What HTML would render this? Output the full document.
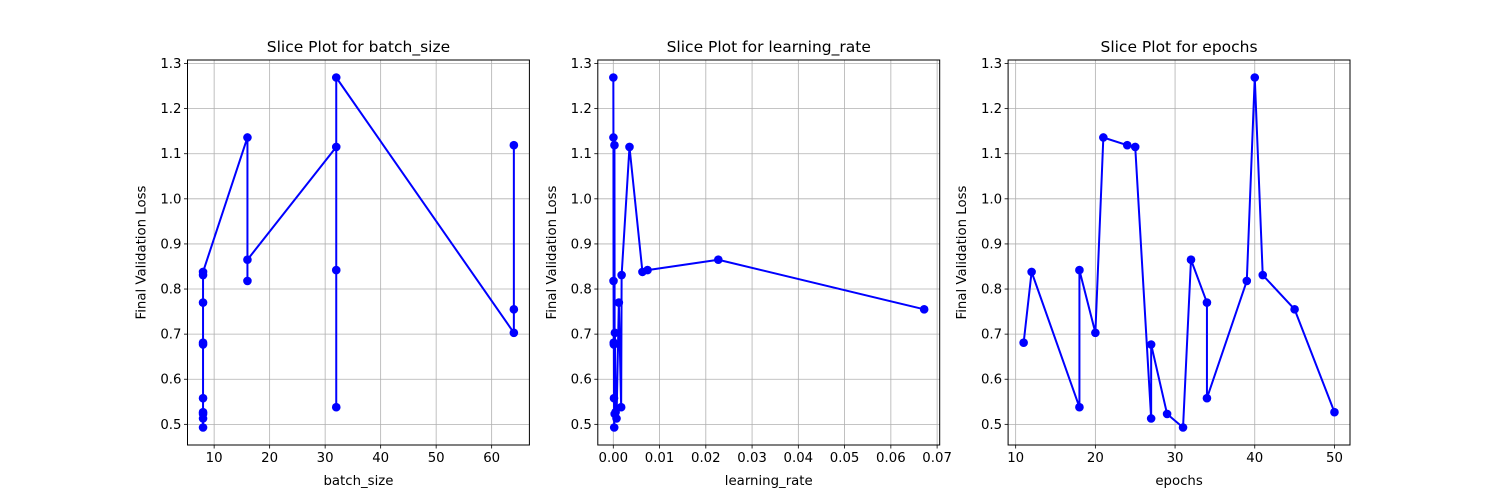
<!DOCTYPE html>
<html><head><meta charset="utf-8"><style>
html,body{margin:0;padding:0;background:#fff;}
svg{display:block;font-family:"DejaVu Sans","Liberation Sans",sans-serif;}
</style></head><body>
<svg id="fig" width="1500" height="500" viewBox="0 0 1500 500" xmlns="http://www.w3.org/2000/svg"></svg>
<script>
// Panel 1: batch_size
const batchX = [8,8,8,8,8,8,8,8,8,8,16,16,16,32,32,32,32,64,64,64];
const batchLoss = [0.493,0.513,0.523,0.527,0.558,0.677,0.681,0.770,0.831,0.838,1.136,0.818,0.865,1.115,0.538,0.842,1.269,0.703,0.755,1.119];
const batchTicks = [10,20,30,40,50,60];
// Panel 2: learning_rate
const lrX = [0.00001,0.00003,0.00005,0.0001,0.00012,0.00015,0.0002,0.00025,0.0003,0.00035,0.0005,0.0007,0.0012,0.0017,0.0018,0.0035,0.0063,0.0074,0.0227,0.0672];
const lrLoss = [1.269,1.136,0.818,0.681,0.677,0.558,0.493,1.119,0.523,0.703,0.527,0.513,0.770,0.538,0.831,1.115,0.838,0.842,0.865,0.755];
const lrTicks = ["0.00","0.01","0.02","0.03","0.04","0.05","0.06","0.07"];
// Panel 3: epochs
const epochX = [11,12,18,18,20,21,24,25,27,27,29,31,32,34,34,39,40,41,45,50];
const epochLoss = [0.681,0.838,0.538,0.842,0.703,1.136,1.119,1.115,0.513,0.677,0.523,0.493,0.865,0.770,0.558,0.818,1.269,0.831,0.755,0.527];
const epochTicks = [10,20,30,40,50];
const yTicks = ["0.5","0.6","0.7","0.8","0.9","1.0","1.1","1.2","1.3"];

const NS="http://www.w3.org/2000/svg";
const svg=document.getElementById('fig');
function mk(tag,attrs,parent){const e=document.createElementNS(NS,tag);for(const k in attrs)e.setAttribute(k,attrs[k]);(parent||svg).appendChild(e);return e;}

const plotTop=60,plotBottom=445;
const W=341.9;
const lefts=[187.5,597.8,1008.1];
const panels=[
 {xs:batchX,ys:batchLoss,ticks:batchTicks.map(Number),tickLabels:batchTicks.map(String),label:"batch_size",title:"Slice Plot for batch_size",key:"batch-size"},
 {xs:lrX,ys:lrLoss,ticks:lrTicks.map(Number),tickLabels:lrTicks,label:"learning_rate",title:"Slice Plot for learning_rate",key:"learning-rate"},
 {xs:epochX,ys:epochLoss,ticks:epochTicks.map(Number),tickLabels:epochTicks.map(String),label:"epochs",title:"Slice Plot for epochs",key:"epochs"}
];
panels.forEach((p,i)=>{
  const L=lefts[i],R=L+W;
  const g=mk('g',{});
  
  
  let xmin=Math.min(...p.xs),xmax=Math.max(...p.xs),xs=xmax-xmin;xmin-=xs*0.05;xmax+=xs*0.05;
  let ymin=Math.min(...p.ys),ymax=Math.max(...p.ys),ys=ymax-ymin;ymin-=ys*0.05;ymax+=ys*0.05;
  const X=v=>L+(v-xmin)/(xmax-xmin)*W;
  const Y=v=>plotBottom-(v-ymin)/(ymax-ymin)*(plotBottom-plotTop);
  p.ticks.forEach((t,j)=>{
    const x=X(t);
    const gl=mk('line',{x1:x,x2:x,y1:plotTop,y2:plotBottom,stroke:'#b0b0b0','stroke-width':0.8},g);
    
    
    mk('line',{x1:x,x2:x,y1:plotBottom,y2:plotBottom+3.5,stroke:'#000','stroke-width':0.8},g);
    const tl=mk('text',{x:x,y:plotBottom+17,'font-size':13.3,'text-anchor':'middle',fill:'#000'},g);
    tl.textContent=p.tickLabels[j];
    
    
  });
  yTicks.forEach(t=>{
    const y=Y(Number(t));
    const gl=mk('line',{x1:L,x2:R,y1:y,y2:y,stroke:'#b0b0b0','stroke-width':0.8},g);
    
    
    mk('line',{x1:L-3.5,x2:L,y1:y,y2:y,stroke:'#000','stroke-width':0.8},g);
    const tl=mk('text',{x:L-6,y:y+4.5,'font-size':13.3,'text-anchor':'end',fill:'#000'},g);
    tl.textContent=t;
    
    
  });
  const pts=p.xs.map((x,k)=>[x,p.ys[k]]);
  const line=mk('polyline',{points:pts.map(q=>X(q[0])+','+Y(q[1])).join(' '),fill:'none',stroke:'#0000ff','stroke-width':2,'stroke-linejoin':'round'},g);
  
  
  pts.forEach(q=>{
    const c=mk('circle',{cx:X(q[0]),cy:Y(q[1]),r:4.3,fill:'#0000ff'},g);
    
    
  });
  const fr=mk('rect',{x:L,y:plotTop,width:W,height:plotBottom-plotTop,fill:'none',stroke:'#000','stroke-width':1},g);
  
  
  const tt=mk('text',{x:L+W/2,y:plotTop-8,'font-size':15.5,'text-anchor':'middle',fill:'#000'},g);
  tt.textContent=p.title;
  
  
  const xl=mk('text',{x:L+W/2,y:485,'font-size':13.3,'text-anchor':'middle',fill:'#000'},g);
  xl.textContent=p.label;
  
  
  const yx=L-42,yy=(plotTop+plotBottom)/2;
  const yl=mk('text',{x:yx,y:yy,'font-size':13.3,'text-anchor':'middle',fill:'#000',transform:'rotate(-90 '+yx+' '+yy+')'},g);
  yl.textContent='Final Validation Loss';
  
  
});
</script>
</body></html>
